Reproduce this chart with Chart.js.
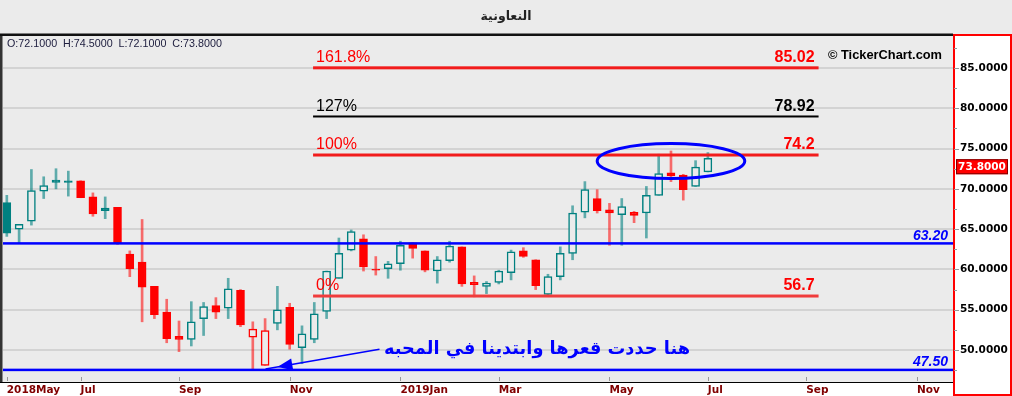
<!DOCTYPE html>
<html>
<head>
<meta charset="utf-8">
<script src="https://cdn.jsdelivr.net/npm/chart.js@4.4.0/dist/chart.umd.min.js"></script>
<style>
  html, body { margin: 0; padding: 0; background: #ebebeb; overflow: hidden; }
  #chart { display: block; }
</style>
</head>
<body>
<canvas id="chart" width="1012" height="396"></canvas>
<script>
// === Dados (candles semanais) ===
const opens  = [68.3, 65.0, 66.0, 69.7, 71.1, 71.0, 71.0, 69.0, 67.6, 67.7,
                61.9, 60.9, 57.9, 54.7, 51.7, 51.3, 53.9, 55.5, 55.2, 57.4,
                51.6, 48.1, 53.3, 55.3, 50.3, 51.3, 54.8, 58.9, 62.4, 63.8,
                60.0, 60.1, 60.7, 63.3, 62.3, 59.8, 61.1, 62.8, 58.4, 57.9,
                58.4, 59.6, 62.3, 61.2, 56.9, 59.1, 62.0, 67.1, 68.8, 67.4,
                66.8, 67.1, 67.0, 69.2, 72.0, 71.7, 70.3, 72.1];
const highs  = [69.2, 65.6, 72.4, 71.5, 72.5, 72.2, 71.0, 69.5, 69.0, 67.7,
                62.3, 66.2, 57.9, 56.3, 53.6, 56.0, 55.9, 56.5, 58.9, 57.5,
                53.5, 53.9, 57.9, 55.8, 53.0, 55.9, 59.8, 63.9, 64.9, 64.3,
                61.6, 61.0, 63.5, 63.3, 62.3, 61.6, 63.5, 62.8, 59.2, 58.5,
                59.9, 62.4, 62.7, 61.2, 59.4, 62.8, 67.9, 70.9, 69.9, 68.2,
                68.8, 67.2, 70.3, 74.3, 74.7, 71.8, 73.5, 74.5];
const lows   = [64.1, 63.3, 65.5, 68.8, 70.0, 69.1, 68.9, 66.6, 66.3, 63.1,
                59.1, 53.5, 53.9, 50.9, 49.8, 50.5, 51.8, 53.9, 53.9, 52.9,
                47.5, 48.1, 52.5, 50.1, 48.3, 50.9, 53.9, 58.9, 62.3, 59.8,
                59.3, 58.9, 59.9, 61.4, 59.7, 58.3, 60.9, 57.9, 56.6, 57.0,
                58.2, 58.7, 61.5, 57.5, 56.8, 58.7, 61.2, 66.4, 67.0, 63.0,
                63.0, 65.8, 63.9, 69.2, 70.9, 68.6, 70.3, 72.1];
const closes = [64.5, 65.6, 69.8, 70.4, 70.8, 70.8, 68.9, 66.9, 67.3, 63.3,
                60.1, 57.8, 54.4, 51.4, 51.3, 53.5, 55.4, 54.7, 57.6, 53.1,
                52.6, 52.4, 55.0, 50.7, 52.0, 54.5, 59.8, 62.0, 64.7, 60.3,
                59.9, 60.7, 63.0, 62.6, 59.9, 61.2, 62.9, 58.2, 58.1, 58.3,
                59.8, 62.2, 61.6, 58.0, 59.1, 62.0, 67.0, 69.9, 67.3, 67.0,
                67.8, 66.7, 69.2, 71.9, 71.6, 69.9, 72.7, 73.8];

// Rótulos do eixo X (índice da semana -> mês)
const monthTicks  = [0, 6, 14, 23, 32, 40, 49, 57, 65, 74];
const monthLabels = ["2018May", "Jul", "Sep", "Nov", "2019Jan", "Mar", "May", "Jul", "Sep", "Nov"];

// Níveis de Fibonacci e suportes
const fibLevels  = [85.02, 78.92, 74.2, 56.7];
const fibNames   = ["161.8%", "127%", "100%", "0%"];
const fibTexts   = ["85.02", "78.92", "74.2", "56.7"];
const lineLevels = [63.20, 47.50];
const lineTexts  = ["63.20", "47.50"];

const titleText = "النعاونية";
const noteText  = "هنا حددت قعرها وابتدينا في المحبه";

// === Cores ===
const TEAL = "#008080";
const RED = "#ff0000";
const BG = "#ebebeb";

const idx = closes.map((_, i) => i);
const isUp = idx.map(i => i === 0 || closes[i] >= closes[i - 1]);
const hollow = idx.map(i => closes[i] > opens[i]);
const bodyColor = idx.map(i => isUp[i] ? TEAL : RED);
const wickColor = idx.map(i => isUp[i] ? "rgba(0,128,128,0.6)" : "rgba(255,0,0,0.55)");

function fitFont(ctx, text, weight, family, target) {
  ctx.font = `${weight} 20px ${family}`;
  const w = ctx.measureText(text).width;
  return `${weight} ${(20 * target / w).toFixed(2)}px ${family}`;
}

const decor = {
  id: "decor",
  beforeDraw(chart) {
    const { ctx, chartArea: a, width, height } = chart;
    ctx.save();
    ctx.fillStyle = BG;
    ctx.fillRect(0, 0, width, height);
    ctx.fillStyle = "#fff";
    ctx.fillRect(0, a.bottom, a.right, height - a.bottom);
    ctx.fillRect(a.right, a.top, width - a.right, height - a.top);
    ctx.restore();
  },
  afterDatasetsDraw(chart) {
    const { ctx, chartArea: a, scales: { x, y } } = chart;
    ctx.save();
    ctx.beginPath();
    ctx.rect(a.left, a.top, a.right - a.left, a.bottom - a.top);
    ctx.clip();

    // linhas azuis (suporte)
    lineLevels.forEach((v, i) => {
      const py = y.getPixelForValue(v);
      ctx.fillStyle = "#0000ff";
      ctx.fillRect(a.left, py - 1.5, a.right - a.left, 2.5);
      ctx.font = "italic bold 14px 'Liberation Sans', Arial";
      ctx.textAlign = "right";
      ctx.textBaseline = "middle";
      ctx.fillText(lineTexts[i], a.right - 5, py - 8);
    });

    // níveis de Fibonacci
    const fx0 = x.getPixelForValue(24.9), fx1 = x.getPixelForValue(66);
    fibLevels.forEach((v, i) => {
      const py = y.getPixelForValue(v);
      const col = fibNames[i] === "127%" ? "#000" : (fibNames[i] === "0%" ? "#f03c3c" : "#f21c1c");
      ctx.fillStyle = col;
      ctx.fillRect(fx0, py - 1.5, fx1 - fx0, fibNames[i] === "127%" ? 2 : 3);
      ctx.textBaseline = "middle";
      ctx.textAlign = "left";
      ctx.font = "16px 'Liberation Sans', Arial";
      ctx.fillStyle = fibNames[i] === "127%" ? "#000" : "#ff0000";
      ctx.fillText(fibNames[i], fx0 + 3, py - 10);
      ctx.textAlign = "right";
      ctx.font = "bold 16px 'Liberation Sans', Arial";
      ctx.fillText(fibTexts[i], fx1 - 4, py - 10);
    });

    // elipse sobre os últimos candles
    const ex = x.getPixelForValue(54), ey = y.getPixelForValue(73.45);
    const rx = x.getPixelForValue(60) - ex, ry = ey - y.getPixelForValue(75.62);
    ctx.strokeStyle = "#0000ff";
    ctx.lineWidth = 3;
    ctx.beginPath();
    ctx.ellipse(ex, ey, rx, ry, 0, 0, Math.PI * 2);
    ctx.stroke();

    // seta
    const ax0 = x.getPixelForValue(30.3), ay0 = y.getPixelForValue(50.1);
    const ax1 = x.getPixelForValue(22.0), ay1 = y.getPixelForValue(47.9);
    const ang = Math.atan2(ay1 - ay0, ax1 - ax0);
    ctx.lineWidth = 1.5;
    ctx.beginPath();
    ctx.moveTo(ax0, ay0);
    ctx.lineTo(ax1 + 12 * Math.cos(ang), ay1 + 12 * Math.sin(ang));
    ctx.stroke();
    ctx.fillStyle = "#0000ff";
    ctx.beginPath();
    ctx.moveTo(ax1, ay1);
    ctx.lineTo(ax1 - 15 * Math.cos(ang) + 6 * Math.sin(ang), ay1 - 15 * Math.sin(ang) - 6 * Math.cos(ang));
    ctx.lineTo(ax1 - 15 * Math.cos(ang) - 6 * Math.sin(ang), ay1 - 15 * Math.sin(ang) + 6 * Math.cos(ang));
    ctx.closePath();
    ctx.fill();

    // texto em árabe
    ctx.font = fitFont(ctx, noteText, "bold", "'DejaVu Sans'", 306);
    ctx.textAlign = "center";
    ctx.textBaseline = "middle";
    ctx.fillText(noteText, 537, 349);
    ctx.restore();
  },
  afterDraw(chart) {
    const { ctx, chartArea: a, width, height, scales: { x, y } } = chart;
    ctx.save();
    // bordas
    ctx.fillStyle = "#111";
    ctx.fillRect(0, a.top - 2.5, a.right, 2.5);
    ctx.fillStyle = "#333";
    ctx.fillRect(0, a.top, 2.5, a.bottom - a.top);
    ctx.fillStyle = "#000";
    ctx.fillRect(0, a.bottom, a.right, 1);
    ctx.strokeStyle = "#ff0000";
    ctx.lineWidth = 2;
    ctx.strokeRect(a.right + 1, a.top - 1, width - a.right - 2, height - a.top);

    // marcas do eixo X
    ctx.fillStyle = "#999";
    monthTicks.forEach(t => {
      ctx.fillRect(Math.round(x.getPixelForValue(t)), a.bottom - 5, 1, 4);
    });
    // marcas do eixo Y
    for (let v = 47.5; v <= 88; v += 2.5) {
      const py = Math.round(y.getPixelForValue(v));
      ctx.fillRect(a.right + 1, py, v % 5 === 0 ? 5 : 3, 1);
    }

    // título
    ctx.fillStyle = "#222";
    ctx.font = fitFont(ctx, titleText, "bold", "'DejaVu Sans'", 51);
    ctx.textAlign = "center";
    ctx.textBaseline = "middle";
    ctx.fillText(titleText, 506, 17);

    // cabeçalho OHLC
    const n = closes.length - 1;
    const fmt = v => v.toFixed(4);
    const header = `O:${fmt(opens[n])}  H:${fmt(highs[n])}  L:${fmt(lows[n])}  C:${fmt(closes[n])}`;
    ctx.font = fitFont(ctx, header, "normal", "'Liberation Sans', Arial", 215);
    ctx.textAlign = "left";
    ctx.fillStyle = "#202040";
    ctx.fillText(header, 7, a.top + 8);

    // marca d'água
    ctx.fillStyle = "#000";
    ctx.font = fitFont(ctx, "© TickerChart.com", "bold", "'Liberation Sans', Arial", 114);
    ctx.fillText("© TickerChart.com", 828, 55);

    // preço atual
    const py = y.getPixelForValue(closes[n]);
    ctx.fillStyle = "#ff0000";
    ctx.fillRect(a.right + 3, py + 1, 52, 15);
    ctx.strokeStyle = "#800000";
    ctx.lineWidth = 1;
    ctx.strokeRect(a.right + 3.5, py + 1.5, 51, 14);
    ctx.fillStyle = "#fff";
    ctx.font = "bold 10.5px 'DejaVu Sans'";
    ctx.textAlign = "center";
    ctx.fillText(fmt(closes[n]), a.right + 29, py + 9);
    ctx.restore();
  }
};

const ctx = document.getElementById("chart").getContext("2d");
new Chart(ctx, {
  type: "bar",
  data: {
    datasets: [
      {
        label: "corpo",
        data: idx.map(i => ({ x: i, y: [opens[i], closes[i]] })),
        backgroundColor: idx.map(i => hollow[i] ? BG : bodyColor[i]),
        borderColor: bodyColor,
        borderWidth: 1.5,
        borderSkipped: false,
        barThickness: 8,
        grouped: false
      },
      {
        label: "pavio",
        data: idx.map(i => ({ x: i, y: [lows[i], highs[i]] })),
        backgroundColor: wickColor,
        borderWidth: 0,
        barThickness: 2,
        grouped: false
      }
    ]
  },
  options: {
    responsive: false,
    animation: false,
    layout: { padding: { top: 36, left: 3, right: 0, bottom: 0 } },
    plugins: { legend: { display: false }, tooltip: { enabled: false } },
    scales: {
      x: {
        type: "linear",
        offset: false,
        min: -0.31,
        max: 76.93,
        grid: { display: false, drawTicks: false, offset: false },
        border: { display: false },
        afterBuildTicks: scale => { scale.ticks = monthTicks.map(v => ({ value: v })); },
        afterFit: scale => { scale.height = 14; },
        ticks: {
          autoSkip: false,
          maxRotation: 0,
          align: "start",
          padding: 2,
          color: "#800000",
          font: { family: "DejaVu Sans", weight: "bold", size: 10.5 },
          callback: v => monthLabels[monthTicks.indexOf(v)] || ""
        }
      },
      y: {
        position: "right",
        min: 46.03,
        max: 88.97,
        grid: { color: "#d3d3d3", lineWidth: 2, drawTicks: false },
        border: { display: false },
        afterFit: scale => { scale.width = 59; },
        ticks: {
          stepSize: 5,
          includeBounds: false,
          padding: 7,
          color: "#000",
          font: { family: "DejaVu Sans", weight: "bold", size: 10.5 },
          callback: v => v.toFixed(4)
        }
      }
    }
  },
  plugins: [decor]
});
</script>
</body>
</html>
